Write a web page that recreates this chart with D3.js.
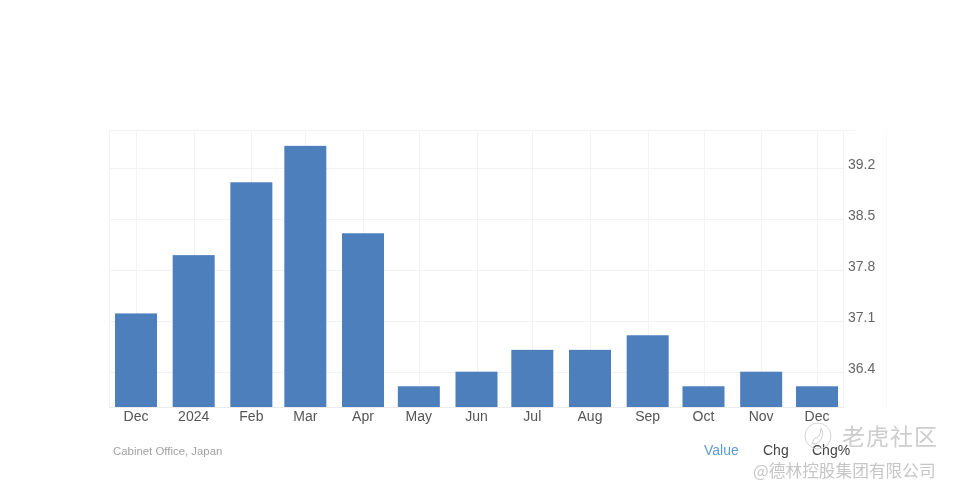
<!DOCTYPE html>
<html>
<head>
<meta charset="utf-8">
<script src="https://cdn.jsdelivr.net/npm/d3@7/dist/d3.min.js"></script>
<style>
html,body{margin:0;padding:0;background:#fff;}
svg{display:block;filter:blur(0.6px);font-family:"Liberation Sans",Arial,sans-serif;}
</style>
</head>
<body>
<svg id="chart" width="956" height="492"></svg>
<script>
const months = ["2023-12-01","2024-01-01","2024-02-01","2024-03-01","2024-04-01","2024-05-01","2024-06-01","2024-07-01","2024-08-01","2024-09-01","2024-10-01","2024-11-01","2024-12-01"];
const monthLabels = ["Dec","2024","Feb","Mar","Apr","May","Jun","Jul","Aug","Sep","Oct","Nov","Dec"];
const values = [37.2,38.0,39.0,39.5,38.3,36.2,36.4,36.7,36.7,36.9,36.2,36.4,36.2];
const yTicks = [36.4,37.1,37.8,38.5,39.2];
const tabs = ["Value","Chg","Chg%"];
const source = "Cabinet Office, Japan";
const watermarkTitle = "老虎社区";
const watermarkSub = "@德林控股集团有限公司";

const dates = months.map(d => new Date(d + "T00:00:00Z"));
const svg = d3.select("#chart");
const plotLeft = 109, plotRight = 845, plotTop = 130, plotBottom = 407, barW = 42;

const x = d3.scaleUtc().domain([dates[0], dates[12]]).range([136, 817]);
const y = d3.scaleLinear().domain([36.4, 39.2]).range([371.7, 167.7]);

const grid = svg.append("g").attr("stroke", "#f3f3f3").attr("stroke-width", 1).attr("fill", "none");
grid.selectAll("line.h").data(yTicks).join("line").attr("class", "h")
  .attr("x1", plotLeft).attr("x2", plotRight)
  .attr("y1", d => Math.round(y(d)) + .5).attr("y2", d => Math.round(y(d)) + .5);
grid.selectAll("line.v").data(dates).join("line").attr("class", "v")
  .attr("x1", d => Math.round(x(d)) + .5).attr("x2", d => Math.round(x(d)) + .5)
  .attr("y1", plotTop).attr("y2", plotBottom);
grid.append("line").attr("x1", plotLeft).attr("x2", 855).attr("y1", plotTop + .5).attr("y2", plotTop + .5);
grid.append("line").attr("x1", plotLeft + .5).attr("x2", plotLeft + .5).attr("y1", plotTop).attr("y2", plotBottom);
grid.append("line").attr("x1", plotRight - 1.5).attr("x2", plotRight - 1.5).attr("y1", plotTop).attr("y2", plotBottom);
grid.append("line").attr("x1", 886.5).attr("x2", 886.5).attr("y1", plotTop).attr("y2", plotBottom).attr("stroke", "#f8f8f8");
grid.append("line").attr("x1", plotLeft).attr("x2", plotRight).attr("y1", plotBottom + .5).attr("y2", plotBottom + .5).attr("stroke", "#ebebeb");

svg.append("g").selectAll("rect").data(values).join("rect")
  .attr("x", (d, i) => x(dates[i]) - barW / 2)
  .attr("width", barW)
  .attr("y", d => y(d))
  .attr("height", d => plotBottom - y(d))
  .attr("fill", "#4d7fbd");

svg.append("g").selectAll("text").data(monthLabels).join("text")
  .attr("x", (d, i) => x(dates[i]))
  .attr("y", 420.5)
  .attr("text-anchor", "middle")
  .attr("font-size", 14)
  .attr("fill", "#555")
  .text(d => d);

svg.append("g").selectAll("text").data(yTicks).join("text")
  .attr("x", 848)
  .attr("y", d => y(d) - 3.7 + 5)
  .attr("font-size", 14)
  .attr("fill", "#666")
  .text(d => d.toFixed(1));

svg.append("text").attr("x", 113).attr("y", 455).attr("font-size", 11.4).attr("fill", "#a2a2a2").text(source);

const tabX = [704, 763, 812];
const tabColor = ["#5b9bd5", "#444", "#444"];
svg.append("g").selectAll("text").data(tabs).join("text")
  .attr("x", (d, i) => tabX[i]).attr("y", 455)
  .attr("font-size", 14)
  .attr("fill", (d, i) => tabColor[i])
  .text(d => d);

const wm = svg.append("g").attr("font-family", '"Noto Sans CJK SC",sans-serif');
wm.append("circle").attr("cx", 818).attr("cy", 436).attr("r", 13).attr("fill", "none").attr("stroke", "#d4d4d4").attr("stroke-width", 1);
wm.append("path").attr("d", "M812 443 q2 -6 6 -6 q3 -3 3 -9 q3 4 1 9 q-1 5 -6 7 z").attr("fill", "none").attr("stroke", "#cfcfcf").attr("stroke-width", 1);
wm.append("text").attr("x", 842).attr("y", 445).attr("font-size", 23).attr("fill", "#cdcdcd").attr("letter-spacing", 1).text(watermarkTitle);
wm.append("text").attr("x", 753).attr("y", 477).attr("font-size", 16.7).attr("fill", "#c6c6c6").text(watermarkSub);
</script>
</body>
</html>
